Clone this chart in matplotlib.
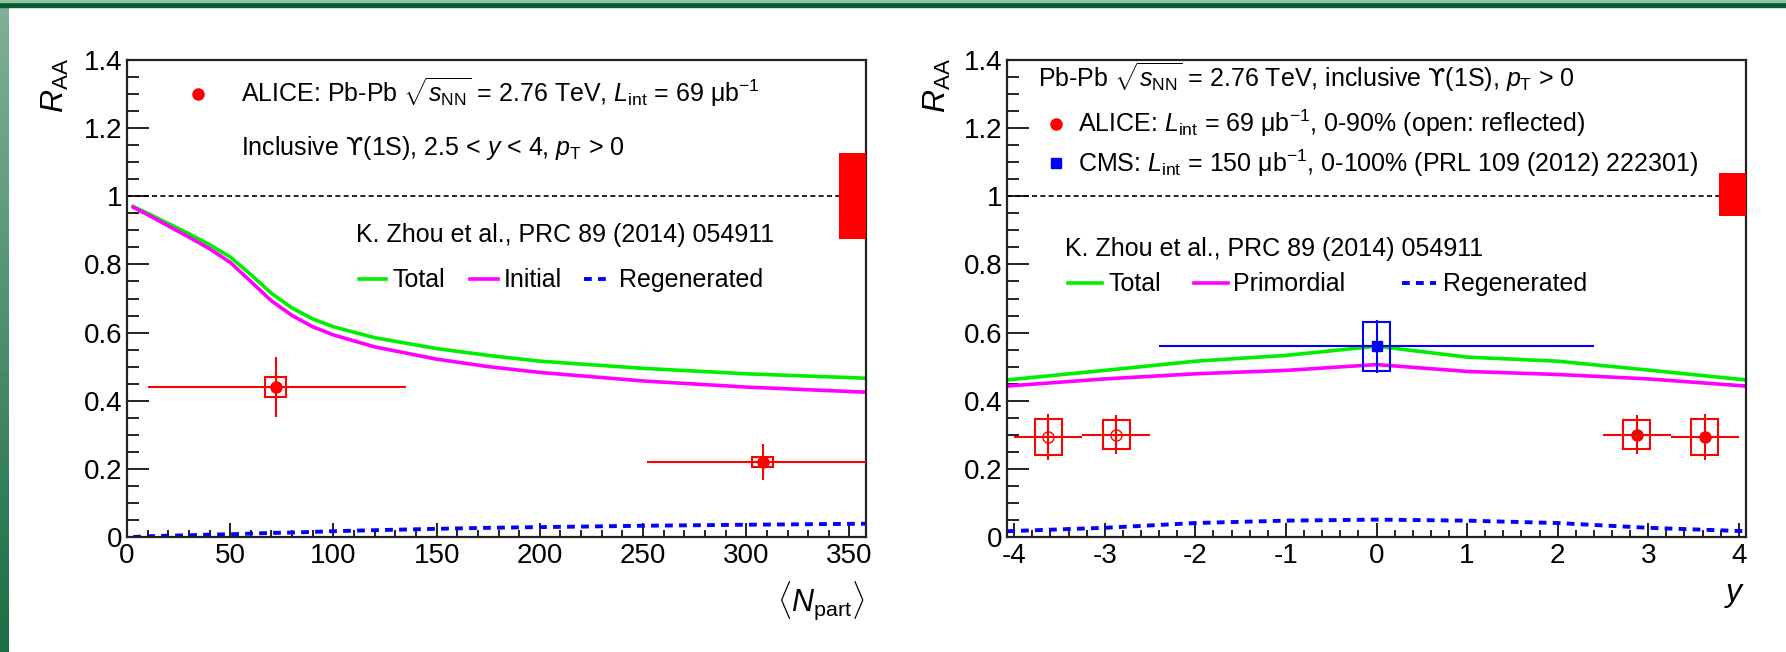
import numpy as np
import matplotlib
matplotlib.use('Agg')
import matplotlib.pyplot as plt
from matplotlib.patches import Rectangle
from matplotlib.ticker import MultipleLocator, FuncFormatter

plt.rcParams['font.family'] = ['Liberation Sans', 'DejaVu Sans']
plt.rcParams['mathtext.fontset'] = 'custom'
plt.rcParams['mathtext.rm'] = 'Liberation Sans'
plt.rcParams['mathtext.it'] = 'Liberation Sans:italic'
plt.rcParams['mathtext.bf'] = 'Liberation Sans:bold'
plt.rcParams['mathtext.cal'] = 'DejaVu Sans'   # used only for the hooked upsilon
plt.rcParams['axes.unicode_minus'] = False

# ---- left panel: R_AA vs <Npart> ----
npart_model = [3, 10, 20, 30, 40, 50, 60, 70, 80, 90, 100, 120, 150, 175, 200, 250, 300, 358]
total_npart = [0.970, 0.950, 0.920, 0.890, 0.858, 0.822, 0.770, 0.715, 0.672, 0.640, 0.617,
               0.585, 0.553, 0.533, 0.516, 0.495, 0.479, 0.466]
initial_npart = [0.968, 0.946, 0.913, 0.880, 0.846, 0.806, 0.750, 0.693, 0.650, 0.617, 0.593,
                 0.558, 0.522, 0.500, 0.483, 0.458, 0.440, 0.425]
regen_npart = [0.0, 0.002, 0.004, 0.005, 0.007, 0.008, 0.010, 0.012, 0.013, 0.015, 0.017,
               0.020, 0.024, 0.027, 0.029, 0.033, 0.036, 0.039]

alice_npart = [72, 308]
alice_npart_lo = [10, 252]
alice_npart_hi = [135, 358]
alice_raa_n = [0.44, 0.22]
alice_stat_n = [0.088, 0.052]
alice_syst_n = [0.030, 0.015]
alice_boxw_n = [5, 5]
glob_unc_n = (0.875, 1.127)

# ---- right panel: R_AA vs y ----
y_model = [-4.08, -3, -2, -1, 0, 1, 2, 3, 4.08]
total_y = [0.461, 0.489, 0.516, 0.533, 0.560, 0.528, 0.516, 0.490, 0.461]
prim_y = [0.443, 0.464, 0.479, 0.489, 0.506, 0.486, 0.477, 0.464, 0.443]
regen_y = [0.017, 0.027, 0.041, 0.048, 0.051, 0.048, 0.041, 0.027, 0.017]

alice_y = [2.875, 3.625]
alice_y_xerr = [0.375, 0.375]
alice_raa_y = [0.300, 0.293]
alice_stat_y = [0.057, 0.067]
alice_syst_y = [0.042, 0.052]
alice_boxw_y = [0.15, 0.15]

cms_y = [0.0]
cms_xerr = [2.4]
cms_raa = [0.56]
cms_stat = [0.078]
cms_syst = [0.072]
cms_boxw = [0.15]
glob_unc_y = (0.942, 1.068)

RED = '#ff0000'
GREEN = '#00ee00'
MAG = '#ff00ff'
BLUE = '#0000ff'
UPS = r'$\mathcal{ϒ}$'
FS = 18

fig = plt.figure(figsize=(17.86, 6.52), dpi=100)

# slide decoration
band = fig.add_axes([0, 0, 9 / 1786, 1])
band.imshow(np.linspace(0, 1, 100).reshape(-1, 1), aspect='auto',
            cmap=matplotlib.colors.LinearSegmentedColormap.from_list('g', ['#7fb297', '#1c6e45']),
            extent=[0, 1, 0, 1], origin='upper')
band.axis('off')
fig.patches.append(Rectangle((0, 1 - 7 / 652), 1, 7 / 652, transform=fig.transFigure,
                             color='#0b5a33', zorder=5))
fig.patches.append(Rectangle((0, 1 - 2 / 652), 1, 1.5 / 652, transform=fig.transFigure,
                             color='#8cc4a4', zorder=6))

W, H = 1786, 652
axL = fig.add_axes([127 / W, (H - 537) / H, 739 / W, 477 / H])
axR = fig.add_axes([1007 / W, (H - 537) / H, 739 / W, 477 / H])

fmt = FuncFormatter(lambda v, p: f'{round(v, 6) + 0:g}')
for ax in (axL, axR):
    ax.set_ylim(0, 1.4)
    ax.yaxis.set_major_locator(MultipleLocator(0.2))
    ax.yaxis.set_minor_locator(MultipleLocator(0.05))
    ax.yaxis.set_major_formatter(fmt)
    ax.xaxis.set_major_formatter(fmt)
    ax.tick_params(which='both', direction='in', top=False, right=False,
                   labelsize=20, width=1.3, color='#111111')
    ax.tick_params(axis='x', which='major', length=10, pad=4)
    ax.tick_params(axis='x', which='minor', length=5)
    ax.tick_params(axis='y', which='major', length=16, pad=3)
    ax.tick_params(axis='y', which='minor', length=8.5)
    for s in ax.spines.values():
        s.set_linewidth(1.6)
        s.set_color('#222222')

# left panel
axL.set_xlim(0, 358)
axL.xaxis.set_major_locator(MultipleLocator(50))
axL.xaxis.set_minor_locator(MultipleLocator(10))
axL.plot([0, 345], [1, 1], color='black', ls=(0, (3, 2)), lw=1.2)
axL.add_patch(Rectangle((345, glob_unc_n[0]), 13, glob_unc_n[1] - glob_unc_n[0],
                        color=RED, lw=0, zorder=4))
axL.plot(npart_model, total_npart, color=GREEN, lw=2.6)
axL.plot(npart_model, initial_npart, color=MAG, lw=2.6)
axL.plot(npart_model, regen_npart, color=BLUE, lw=2.8, ls=(0, (2, 1.6)))
for x, lo, hi, v, st, sy, bw in zip(alice_npart, alice_npart_lo, alice_npart_hi, alice_raa_n,
                                     alice_stat_n, alice_syst_n, alice_boxw_n):
    axL.errorbar([x], [v], xerr=[[x - lo], [hi - x]], yerr=[st], fmt='o', color=RED,
                 ms=8, elinewidth=1.5, capsize=0, zorder=6)
    axL.add_patch(Rectangle((x - bw, v - sy), 2 * bw, 2 * sy, fill=False, ec=RED, lw=1.5, zorder=6))

tl = axL.transAxes
axL.plot([0.096], [0.929], 'o', color=RED, ms=8, transform=tl)
axL.text(0.154, 0.912, r'ALICE: Pb-Pb $\sqrt{s_{\rm NN}}$ = 2.76 TeV, $L_{\rm int}$ = 69 μb$^{-1}$',
         transform=tl, fontsize=FS, va='baseline')
axL.text(0.154, 0.801, 'Inclusive ' + UPS + r'(1S), 2.5 < $y$ < 4, $p_{\rm T}$ > 0',
         transform=tl, fontsize=FS, va='baseline')
axL.text(0.310, 0.618, 'K. Zhou et al., PRC 89 (2014) 054911', transform=tl, fontsize=FS, va='baseline')
axL.plot([0.314, 0.350], [0.541, 0.541], color=GREEN, lw=2.6, transform=tl)
axL.text(0.359, 0.524, 'Total', transform=tl, fontsize=FS, va='baseline')
axL.plot([0.464, 0.502], [0.541, 0.541], color=MAG, lw=2.6, transform=tl)
axL.text(0.510, 0.524, 'Initial', transform=tl, fontsize=FS, va='baseline')
axL.plot([0.618, 0.655], [0.541, 0.541], color=BLUE, lw=2.8, ls=(0, (2, 1.6)), transform=tl)
axL.text(0.666, 0.524, 'Regenerated', transform=tl, fontsize=FS, va='baseline')

# right panel
axR.set_xlim(-4.08, 4.08)
axR.xaxis.set_major_locator(MultipleLocator(1))
axR.xaxis.set_minor_locator(MultipleLocator(0.2))
axR.plot([-4.08, 3.78], [1, 1], color='black', ls=(0, (3, 2)), lw=1.2)
axR.add_patch(Rectangle((3.78, glob_unc_y[0]), 0.30, glob_unc_y[1] - glob_unc_y[0],
                        color=RED, lw=0, zorder=4))
axR.plot(y_model, total_y, color=GREEN, lw=2.6)
axR.plot(y_model, prim_y, color=MAG, lw=2.6)
axR.plot(y_model, regen_y, color=BLUE, lw=2.8, ls=(0, (2, 1.6)))
for x, xe, v, st, sy, bw in zip(alice_y, alice_y_xerr, alice_raa_y, alice_stat_y, alice_syst_y,
                                alice_boxw_y):
    for sgn, face in ((1, RED), (-1, 'none')):
        axR.errorbar([sgn * x], [v], xerr=[xe], yerr=[st], fmt='o', color=RED, mfc=face,
                     ms=8, elinewidth=1.5, capsize=0, zorder=6)
        axR.add_patch(Rectangle((sgn * x - bw, v - sy), 2 * bw, 2 * sy, fill=False, ec=RED,
                                lw=1.5, zorder=6))
for x, xe, v, st, sy, bw in zip(cms_y, cms_xerr, cms_raa, cms_stat, cms_syst, cms_boxw):
    axR.errorbar([x], [v], xerr=[xe], yerr=[st], fmt='s', color=BLUE, ms=7,
                 elinewidth=1.5, capsize=0, zorder=6)
    axR.add_patch(Rectangle((x - bw, v - sy), 2 * bw, 2 * sy, fill=False, ec=BLUE, lw=1.5, zorder=6))

tr = axR.transAxes
axR.text(0.042, 0.943, r'Pb-Pb $\sqrt{s_{\rm NN}}$ = 2.76 TeV, inclusive ' + UPS + r'(1S), $p_{\rm T}$ > 0',
         transform=tr, fontsize=FS, va='baseline')
axR.plot([0.066], [0.866], 'o', color=RED, ms=8, transform=tr)
axR.text(0.096, 0.849, r'ALICE: $L_{\rm int}$ = 69 μb$^{-1}$, 0-90% (open: reflected)',
         transform=tr, fontsize=FS, va='baseline')
axR.plot([0.066], [0.784], 's', color=BLUE, ms=7, transform=tr)
axR.text(0.096, 0.765, r'CMS: $L_{\rm int}$ = 150 μb$^{-1}$, 0-100% (PRL 109 (2012) 222301)',
         transform=tr, fontsize=FS, va='baseline')
axR.text(0.078, 0.589, 'K. Zhou et al., PRC 89 (2014) 054911', transform=tr, fontsize=FS, va='baseline')
axR.plot([0.083, 0.129], [0.532, 0.532], color=GREEN, lw=2.6, transform=tr)
axR.text(0.137, 0.516, 'Total', transform=tr, fontsize=FS, va='baseline')
axR.plot([0.253, 0.299], [0.532, 0.532], color=MAG, lw=2.6, transform=tr)
axR.text(0.306, 0.516, 'Primordial', transform=tr, fontsize=FS, va='baseline')
axR.plot([0.535, 0.580], [0.532, 0.532], color=BLUE, lw=2.8, ls=(0, (2, 1.6)), transform=tr)
axR.text(0.590, 0.516, 'Regenerated', transform=tr, fontsize=FS, va='baseline')

# axis titles
for xpix in (55, 937):
    fig.text(xpix / W, 1 - 58 / H, r'$R_{\rm AA}$', rotation=90, ha='center', va='top', fontsize=23)
fig.text(864 / W, 1 - 580 / H, r'$\langle N_{\rm part}\rangle$', ha='right', va='top', fontsize=22)
fig.text(1745 / W, 1 - 580 / H, r'$y$', ha='right', va='top', fontsize=23)

fig.savefig('out.png', dpi=100)
